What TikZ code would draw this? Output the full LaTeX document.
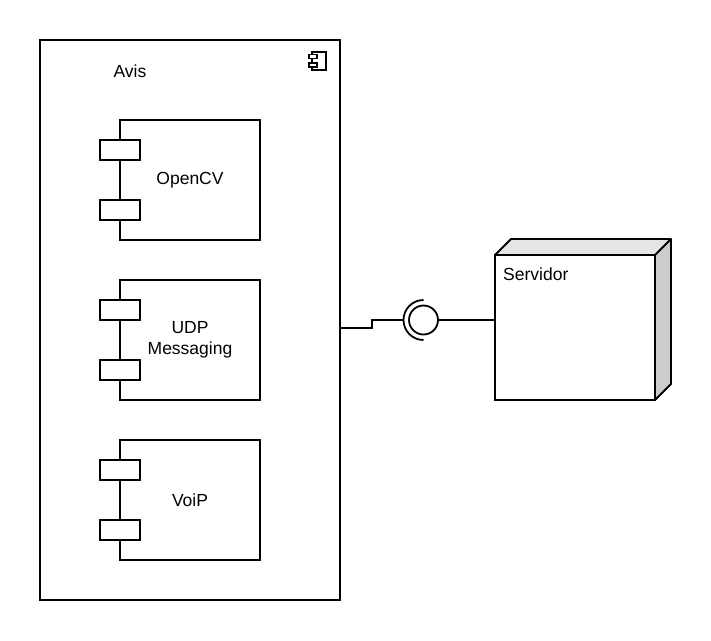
\documentclass[tikz,border=0pt]{standalone}
\usepackage{fontspec}
\setmainfont{Liberation Sans}
\begin{document}
\begin{tikzpicture}[x=1pt,y=-1pt,
  ln/.style={line width=1.8pt},
  box/.style={draw,ln,fill=white,inner sep=0pt,outer sep=0pt},
  comp/.style={box,minimum width=140pt,minimum height=120pt,align=center,
    font=\fontsize{17.5}{21}\selectfont},
  port/.style={box,minimum width=40pt,minimum height=20pt},
  lbl/.style={font=\fontsize{17.5}{21}\selectfont,inner sep=0pt}]
\useasboundingbox (0,0) rectangle (711,640);
\fill[white] (0,0) rectangle (711,640);
% outer component
\node[box,minimum width=300pt,minimum height=560pt] (avis) at (190,320) {};
\node[lbl] (avislbl) at (130,71) {Avis};
% component icon
\node[draw,line width=1.2pt,minimum width=14pt,minimum height=18pt,inner sep=0pt] (icon) at (319,61) {};
\node[draw,line width=1.2pt,fill=white,minimum width=8pt,minimum height=4pt,inner sep=0pt] (iconp1) at (313,56.5) {};
\node[draw,line width=1.2pt,fill=white,minimum width=8pt,minimum height=4pt,inner sep=0pt] (iconp2) at (313,65) {};
% inner components
\node[comp] (cv) at (190,180) {OpenCV};
\node[port] (cvp1) at (120,150) {};
\node[port] (cvp2) at (120,210) {};
\node[comp] (udp) at (190,340) {UDP\\Messaging};
\node[port] (udpp1) at (120,310) {};
\node[port] (udpp2) at (120,370) {};
\node[comp] (voip) at (190,500) {VoiP};
\node[port] (voipp1) at (120,470) {};
\node[port] (voipp2) at (120,530) {};
% server node
\node[box,minimum width=160pt,minimum height=145pt] (srv) at (575,327.5) {};
\fill[gray!20] (srv.north west) -- ++(16,-16) -- ([shift={(16,-16)}]srv.north east) -- (srv.north east) -- cycle;
\fill[gray!40] (srv.north east) -- ++(16,-16) -- ([shift={(16,-16)}]srv.south east) -- (srv.south east) -- cycle;
\draw[ln,line join=round] (srv.north west) -- ++(16,-16) -- ([shift={(16,-16)}]srv.north east) -- (srv.north east)
  ([shift={(16,-16)}]srv.north east) -- ([shift={(16,-16)}]srv.south east) -- (srv.south east);
\draw[ln] (srv.north west) rectangle (srv.south east);
\node[lbl,anchor=west] (srvlbl) at (503,274) {Servidor};
% interface
\node[draw,ln,circle,minimum size=29pt,inner sep=0pt] (iface) at (423.5,320) {};
\coordinate (sock) at (403.5,320);
\coordinate (bend) at (372,328);
\draw[ln] (423.5,340) arc[start angle=90,end angle=270,radius=20];
\draw[ln] ([yshift=-8pt]avis.east) -- (bend) -- (bend |- sock) -- (sock);
\draw[ln] (iface.east) -- (srv.west |- iface);
\end{tikzpicture}
\end{document}
